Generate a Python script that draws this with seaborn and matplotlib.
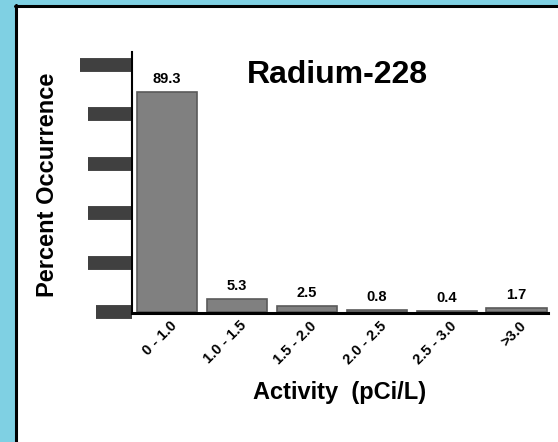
import matplotlib
matplotlib.use("Agg")
import matplotlib.pyplot as plt
import matplotlib.transforms as mtransforms
from matplotlib.patches import Rectangle
from matplotlib.lines import Line2D
import seaborn as sns

# ---------------------------------------
# Data
# ---------------------------------------
categories = ["0 - 1.0", "1.0 - 1.5", "1.5 - 2.0", "2.0 - 2.5", "2.5 - 3.0", ">3.0"]
values = [89.3, 5.3, 2.5, 0.8, 0.4, 1.7]
yticks = [0, 20, 40, 60, 80, 100]

# ---------------------------------------
# Styling
# ---------------------------------------
sns.set_style("white")
plt.rcParams['font.family'] = ['Liberation Sans', 'DejaVu Sans']
plt.rcParams['text.color'] = 'black'
plt.rcParams['xtick.color'] = 'black'
plt.rcParams['ytick.color'] = '#404040'

fig = plt.figure(figsize=(5.58, 4.42), dpi=100)
fig.patch.set_facecolor("white")

# blue frame on left / top with black inner rule
blue = "#7fd0e3"
fig.patches.append(Rectangle((0, 0), 15 / 558, 1, transform=fig.transFigure,
                             facecolor=blue, edgecolor="none", zorder=0))
fig.patches.append(Rectangle((0, 1 - 5 / 442), 1, 5 / 442, transform=fig.transFigure,
                             facecolor=blue, edgecolor="none", zorder=0))
fig.lines.append(Line2D([15.5 / 558, 15.5 / 558], [0, 1 - 5 / 442], transform=fig.transFigure,
                        color="black", lw=2.2))
fig.lines.append(Line2D([15 / 558, 1], [1 - 5.5 / 442, 1 - 5.5 / 442], transform=fig.transFigure,
                        color="black", lw=2.2))

ax = fig.add_axes([132 / 558, 129 / 442, 416 / 558, 261 / 442])

# ---------------------------------------
# Bars
# ---------------------------------------
sns.barplot(x=categories, y=values, color="#808080", saturation=1, width=0.86,
            edgecolor="#5a5a5a", linewidth=1.2, ax=ax)

for i, v in enumerate(values):
    ax.annotate(f"{v}", (i, v), xytext=(0, 4), textcoords="offset points",
                ha="center", va="bottom", fontsize=10.5, fontweight="bold", color="black")

ax.set_xlim(-0.5, 5.45)
ax.set_ylim(-0.4, 105.3)

# ---------------------------------------
# Axes, ticks
# ---------------------------------------
for s in ["top", "right"]:
    ax.spines[s].set_visible(False)
ax.spines["left"].set_linewidth(1.5)
ax.spines["bottom"].set_linewidth(2.2)
ax.spines["left"].set_color("black")
ax.spines["bottom"].set_color("black")

ax.set_yticks(yticks)
ax.set_yticklabels([])
ax.tick_params(axis="y", left=True, length=31.7, width=10, color="#404040", direction="out")
ticks = ax.yaxis.get_major_ticks()
ticks[0].tick1line.set_markersize(25.9)
ticks[-1].tick1line.set_markersize(37.4)

ax.tick_params(axis="x", length=0, pad=4, labelcolor="black")
offset = mtransforms.ScaledTranslation(2 / 72, 0, fig.dpi_scale_trans)
for lab in ax.get_xticklabels():
    lab.set_rotation(45)
    lab.set_ha("right")
    lab.set_rotation_mode("anchor")
    lab.set_fontsize(10.5)
    lab.set_fontweight("bold")
    lab.set_transform(lab.get_transform() + offset)

# ---------------------------------------
# Titles and Labels
# ---------------------------------------
ax.text(0.493, 0.912, "Radium-228", transform=ax.transAxes, ha="center", va="center",
        fontsize=23, fontweight="bold", color="black")
fig.text(48 / 558, 1 - 185 / 442, "Percent Occurrence", rotation=90, ha="center", va="center",
         fontsize=17, fontweight="bold", color="black")
fig.text(340 / 558, 1 - 392 / 442, "Activity  (pCi/L)", ha="center", va="center",
         fontsize=17, fontweight="bold", color="black")

# ---------------------------------------
# Save Output
# ---------------------------------------
plt.savefig("out.png", dpi=100)
plt.close()
